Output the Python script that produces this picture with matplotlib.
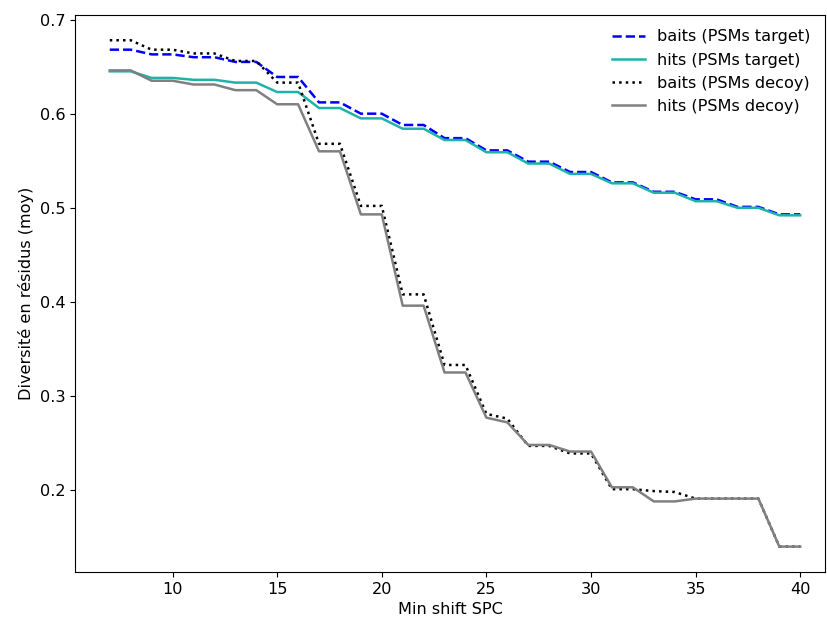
import matplotlib
matplotlib.use("Agg")
import matplotlib.pyplot as plt

# valeurs
min_shift = list(range(7, 41))

baits_target = [0.668, 0.668, 0.663, 0.663, 0.660, 0.660, 0.655, 0.655, 0.639, 0.639,
                0.612, 0.612, 0.600, 0.600, 0.588, 0.588, 0.574, 0.574, 0.561, 0.561,
                0.549, 0.549, 0.538, 0.538, 0.527, 0.527, 0.517, 0.517, 0.509, 0.509,
                0.501, 0.501, 0.493, 0.493]
hits_target = [0.645, 0.645, 0.638, 0.638, 0.636, 0.636, 0.633, 0.633, 0.623, 0.623,
               0.606, 0.606, 0.595, 0.595, 0.584, 0.584, 0.572, 0.572, 0.559, 0.559,
               0.547, 0.547, 0.536, 0.536, 0.526, 0.526, 0.516, 0.516, 0.507, 0.507,
               0.500, 0.500, 0.492, 0.492]
baits_decoy = [0.678, 0.678, 0.668, 0.668, 0.664, 0.664, 0.656, 0.656, 0.633, 0.633,
               0.568, 0.568, 0.502, 0.502, 0.408, 0.408, 0.333, 0.333, 0.281, 0.276,
               0.247, 0.247, 0.239, 0.239, 0.201, 0.201, 0.199, 0.198, 0.191, 0.191,
               0.191, 0.191, 0.140, 0.140]
hits_decoy = [0.646, 0.646, 0.635, 0.635, 0.631, 0.631, 0.625, 0.625, 0.610, 0.610,
              0.560, 0.560, 0.493, 0.493, 0.396, 0.396, 0.325, 0.325, 0.277, 0.272,
              0.248, 0.248, 0.241, 0.241, 0.203, 0.203, 0.188, 0.188, 0.191, 0.191,
              0.191, 0.191, 0.140, 0.140]

plt.rcParams['font.size'] = 11.6

fig, ax = plt.subplots(figsize=(8.27, 6.23), dpi=100)
fig.subplots_adjust(left=0.091, right=0.998, bottom=0.082, top=0.976)

ax.plot(min_shift, baits_target, color='blue', linestyle='--', linewidth=1.8, label='baits (PSMs target)')
ax.plot(min_shift, hits_target, color='lightseagreen', linewidth=1.8, label='hits (PSMs target)')
ax.plot(min_shift, baits_decoy, color='black', linestyle=':', linewidth=1.8, label='baits (PSMs decoy)')
ax.plot(min_shift, hits_decoy, color='grey', linewidth=1.8, label='hits (PSMs decoy)')

ax.set_xlim(5.35, 41.2)
ax.set_xlabel('Min shift SPC')
ax.set_ylabel('Diversité en résidus (moy)')
ax.legend(loc='upper right', frameon=False)

fig.savefig('out.png', dpi=100)
